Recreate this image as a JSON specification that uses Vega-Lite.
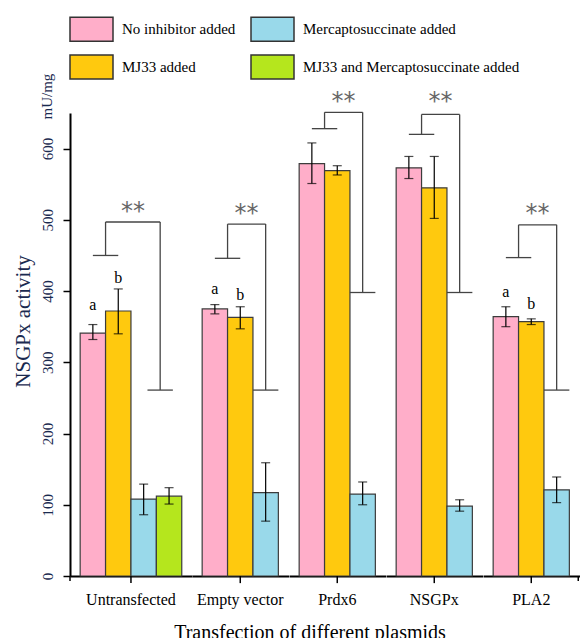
{
  "$schema": "https://vega.github.io/schema/vega-lite/v6.json",
  "padding": {"left": 12, "top": 6, "right": 0, "bottom": 0},
  "config": {"view": {"stroke": null}, "font": "Liberation Serif", "legend": {"labelFont": "Liberation Serif"}},
  "data": {"values": [
    {"group": "Untransfected", "series": "No inhibitor added", "value": 341, "lo": 332, "hi": 353, "letter": "a", "letterY": 374},
    {"group": "Untransfected", "series": "MJ33 added", "value": 372, "lo": 340, "hi": 403, "letter": "b", "letterY": 412, "capL": 450, "capT": 497, "capB": 261, "starY": 511},
    {"group": "Untransfected", "series": "Mercaptosuccinate added", "value": 108, "lo": 86, "hi": 129},
    {"group": "Untransfected", "series": "MJ33 and Mercaptosuccinate added", "value": 112, "lo": 101, "hi": 124},
    {"group": "Empty vector", "series": "No inhibitor added", "value": 375, "lo": 368, "hi": 381, "letter": "a", "letterY": 396},
    {"group": "Empty vector", "series": "MJ33 added", "value": 363, "lo": 347, "hi": 378, "letter": "b", "letterY": 388, "capL": 446, "capT": 494, "capB": 261, "starY": 508},
    {"group": "Empty vector", "series": "Mercaptosuccinate added", "value": 117, "lo": 77, "hi": 159},
    {"group": "Prdx6", "series": "No inhibitor added", "value": 579, "lo": 551, "hi": 608},
    {"group": "Prdx6", "series": "MJ33 added", "value": 569, "lo": 563, "hi": 576, "capL": 628, "capT": 651, "capB": 398, "starY": 665},
    {"group": "Prdx6", "series": "Mercaptosuccinate added", "value": 115, "lo": 100, "hi": 132},
    {"group": "NSGPx", "series": "No inhibitor added", "value": 573, "lo": 558, "hi": 589},
    {"group": "NSGPx", "series": "MJ33 added", "value": 545, "lo": 502, "hi": 589, "capL": 620, "capT": 648, "capB": 398, "starY": 665},
    {"group": "NSGPx", "series": "Mercaptosuccinate added", "value": 98, "lo": 91, "hi": 107},
    {"group": "PLA2", "series": "No inhibitor added", "value": 364, "lo": 350, "hi": 378, "letter": "a", "letterY": 392},
    {"group": "PLA2", "series": "MJ33 added", "value": 357, "lo": 353, "hi": 361, "letter": "b", "letterY": 375, "capL": 447, "capT": 493, "capB": 261, "starY": 508},
    {"group": "PLA2", "series": "Mercaptosuccinate added", "value": 121, "lo": 103, "hi": 139}
  ]},
  "facet": {
    "column": {
      "field": "group", "type": "nominal",
      "sort": ["Untransfected", "Empty vector", "Prdx6", "NSGPx", "PLA2"],
      "title": "Transfection of different plasmids",
      "header": {
        "labelOrient": "bottom", "labelFont": "Liberation Serif", "labelFontSize": 16, "labelColor": "black", "labelPadding": 16,
        "titleOrient": "bottom", "titleFont": "Liberation Serif", "titleFontSize": 20, "titleFontWeight": "normal", "titleColor": "black", "titlePadding": 5
      }
    }
  },
  "spacing": 0,
  "bounds": "flush",
  "resolve": {"scale": {"x": "independent"}, "axis": {"x": "independent"}},
  "spec": {
    "width": {"step": 25.4},
    "height": 463,
    "layer": [
      {
        "mark": {"type": "bar", "stroke": "#3c3c3c", "strokeWidth": 1.2},
        "encoding": {
          "x": {"field": "series", "type": "nominal", "sort": ["No inhibitor added", "MJ33 added", "Mercaptosuccinate added", "MJ33 and Mercaptosuccinate added"],
                "scale": {"paddingInner": 0, "paddingOuter": 0.4},
                "axis": {"title": null, "labels": false, "ticks": false, "domainColor": "black", "domainWidth": 2}},
          "y": {"field": "value", "type": "quantitative", "scale": {"domain": [0, 650], "nice": false},
                "axis": {"title": "NSGPx activity", "values": [0, 50, 100, 150, 200, 250, 300, 350, 400, 450, 500, 550, 600, 650],
                         "labelExpr": "datum.value % 100 === 0 ? datum.label : ''",
                         "labelAngle": -90, "labelAlign": "center", "labelBaseline": "bottom", "labelOverlap": false, "labelFlush": false,
                         "labelFont": "Liberation Serif", "labelFontSize": 15, "labelColor": "#1a2a50", "labelPadding": 8,
                         "tickSize": 7, "tickColor": "black", "tickWidth": 1.5, "domainColor": "black", "domainWidth": 2, "grid": false,
                         "titleFont": "Liberation Serif", "titleFontSize": 21, "titleFontWeight": "normal", "titleColor": "#1a2a50",
                         "titleX": -37, "titleY": 208}},
          "fill": {"field": "series", "type": "nominal",
                   "scale": {"domain": ["No inhibitor added", "MJ33 added", "Mercaptosuccinate added", "MJ33 and Mercaptosuccinate added"],
                             "range": ["#FFAEC9", "#FFC90E", "#99D9EA", "#B5E61D"]},
                   "legend": {"orient": "none", "legendX": -1, "legendY": -106.5, "columns": 2, "title": null,
                              "symbolType": "M-1,-0.56H1V0.56H-1Z", "symbolSize": 1849, "symbolStrokeColor": "#333", "symbolStrokeWidth": 1.5,
                              "labelFont": "Liberation Serif", "labelFontSize": 15, "labelColor": "black", "labelOffset": 8,
                              "columnPadding": 12, "rowPadding": -6, "labelLimit": 400,
                              "encode": {"symbols": {"update": {"stroke": {"value": "#333"}, "strokeWidth": {"value": 1.5}, "opacity": {"value": 1}}},
                                         "labels": {"update": {"font": {"value": "Liberation Serif"}}}}}}
        }
      },
      {
        "mark": {"type": "rule", "color": "black", "strokeWidth": 1.2},
        "encoding": {
          "x": {"field": "series", "type": "nominal", "sort": ["No inhibitor added", "MJ33 added", "Mercaptosuccinate added", "MJ33 and Mercaptosuccinate added"]},
          "y": {"field": "lo", "type": "quantitative"},
          "y2": {"field": "hi"}
        }
      },
      {
        "mark": {"type": "tick", "color": "black", "thickness": 1.2, "size": 9},
        "encoding": {
          "x": {"field": "series", "type": "nominal", "sort": ["No inhibitor added", "MJ33 added", "Mercaptosuccinate added", "MJ33 and Mercaptosuccinate added"]},
          "y": {"field": "lo", "type": "quantitative"}
        }
      },
      {
        "mark": {"type": "tick", "color": "black", "thickness": 1.2, "size": 9},
        "encoding": {
          "x": {"field": "series", "type": "nominal", "sort": ["No inhibitor added", "MJ33 added", "Mercaptosuccinate added", "MJ33 and Mercaptosuccinate added"]},
          "y": {"field": "hi", "type": "quantitative"}
        }
      },
      {
        "transform": [{"filter": "datum.letter != null"}],
        "mark": {"type": "text", "font": "Liberation Serif", "fontSize": 16, "color": "black", "baseline": "alphabetic", "align": "center"},
        "encoding": {
          "x": {"field": "series", "type": "nominal", "sort": ["No inhibitor added", "MJ33 added", "Mercaptosuccinate added", "MJ33 and Mercaptosuccinate added"]},
          "y": {"field": "letterY", "type": "quantitative"},
          "text": {"field": "letter"}
        }
      },
      {
        "transform": [{"filter": "datum.capL != null && datum.group == 'Untransfected'"}],
        "mark": {"type": "text", "font": "Liberation Serif", "fontSize": 15, "color": "#1a2a50", "angle": 270, "baseline": "bottom", "align": "center"},
        "encoding": {
          "x": {"field": "series", "type": "nominal", "bandPosition": -2.0, "sort": ["No inhibitor added", "MJ33 added", "Mercaptosuccinate added", "MJ33 and Mercaptosuccinate added"]},
          "y": {"datum": 673, "type": "quantitative"},
          "text": {"value": "mU/mg"}
        }
      },
      {
        "transform": [{"filter": "datum.capL != null && datum.group != 'Untransfected'"}],
        "mark": {"type": "rule", "color": "black", "strokeWidth": 1.5},
        "encoding": {
          "x": {"field": "series", "type": "nominal", "bandPosition": 0.5, "sort": ["No inhibitor added", "MJ33 added", "Mercaptosuccinate added", "MJ33 and Mercaptosuccinate added"]},
          "y": {"datum": 0, "type": "quantitative"},
          "y2": {"datum": -10}
        }
      },
      {
        "transform": [{"filter": "datum.capL != null && datum.group == 'Untransfected'"}],
        "mark": {"type": "rule", "color": "black", "strokeWidth": 1.5},
        "encoding": {
          "x": {"field": "series", "type": "nominal", "bandPosition": 1, "sort": ["No inhibitor added", "MJ33 added", "Mercaptosuccinate added", "MJ33 and Mercaptosuccinate added"]},
          "y": {"datum": 0, "type": "quantitative"},
          "y2": {"datum": -10}
        }
      },
      {
        "transform": [{"filter": "datum.capL != null && datum.group == 'Untransfected'"}],
        "mark": {"type": "rule", "color": "black", "strokeWidth": 1.5},
        "encoding": {
          "x": {"field": "series", "type": "nominal", "bandPosition": -1.4, "sort": ["No inhibitor added", "MJ33 added", "Mercaptosuccinate added", "MJ33 and Mercaptosuccinate added"]},
          "y": {"datum": 0, "type": "quantitative"},
          "y2": {"datum": -7}
        }
      },
      {
        "transform": [{"filter": "datum.capL != null && datum.group == 'PLA2'"}],
        "mark": {"type": "rule", "color": "black", "strokeWidth": 1.5},
        "encoding": {
          "x": {"field": "series", "type": "nominal", "bandPosition": 2.35, "sort": ["No inhibitor added", "MJ33 added", "Mercaptosuccinate added", "MJ33 and Mercaptosuccinate added"]},
          "y": {"datum": 0, "type": "quantitative"},
          "y2": {"datum": -7}
        }
      },
      {
        "transform": [{"filter": "datum.capL != null"}],
        "mark": {"type": "rule", "color": "#444", "strokeWidth": 1.3},
        "encoding": {
          "x": {"field": "series", "type": "nominal", "bandPosition": -0.5, "sort": ["No inhibitor added", "MJ33 added", "Mercaptosuccinate added", "MJ33 and Mercaptosuccinate added"]},
          "x2": {"field": "series", "bandPosition": 0.5},
          "y": {"field": "capL", "type": "quantitative"}
        }
      },
      {
        "transform": [{"filter": "datum.capL != null"}],
        "mark": {"type": "rule", "color": "#444", "strokeWidth": 1.3},
        "encoding": {
          "x": {"field": "series", "type": "nominal", "bandPosition": 0, "sort": ["No inhibitor added", "MJ33 added", "Mercaptosuccinate added", "MJ33 and Mercaptosuccinate added"]},
          "y": {"field": "capL", "type": "quantitative"},
          "y2": {"field": "capT"}
        }
      },
      {
        "transform": [{"filter": "datum.capL != null && datum.group != 'Untransfected'"}],
        "mark": {"type": "rule", "color": "#444", "strokeWidth": 1.3},
        "encoding": {
          "x": {"field": "series", "type": "nominal", "bandPosition": 0, "sort": ["No inhibitor added", "MJ33 added", "Mercaptosuccinate added", "MJ33 and Mercaptosuccinate added"]},
          "x2": {"field": "series", "bandPosition": 1.5},
          "y": {"field": "capT", "type": "quantitative"}
        }
      },
      {
        "transform": [{"filter": "datum.capL != null && datum.group != 'Untransfected'"}],
        "mark": {"type": "rule", "color": "#444", "strokeWidth": 1.3},
        "encoding": {
          "x": {"field": "series", "type": "nominal", "bandPosition": 1.5, "sort": ["No inhibitor added", "MJ33 added", "Mercaptosuccinate added", "MJ33 and Mercaptosuccinate added"]},
          "y": {"field": "capT", "type": "quantitative"},
          "y2": {"field": "capB"}
        }
      },
      {
        "transform": [{"filter": "datum.capL != null && datum.group != 'Untransfected'"}],
        "mark": {"type": "rule", "color": "#444", "strokeWidth": 1.3},
        "encoding": {
          "x": {"field": "series", "type": "nominal", "bandPosition": 1, "sort": ["No inhibitor added", "MJ33 added", "Mercaptosuccinate added", "MJ33 and Mercaptosuccinate added"]},
          "x2": {"field": "series", "bandPosition": 2},
          "y": {"field": "capB", "type": "quantitative"}
        }
      },
      {
        "transform": [{"filter": "datum.capL != null && datum.group != 'Untransfected'"}],
        "mark": {"type": "text", "font": "DejaVu Sans", "fontSize": 24, "color": "#666", "baseline": "middle", "align": "center"},
        "encoding": {
          "x": {"field": "series", "type": "nominal", "bandPosition": 0.75, "sort": ["No inhibitor added", "MJ33 added", "Mercaptosuccinate added", "MJ33 and Mercaptosuccinate added"]},
          "y": {"field": "starY", "type": "quantitative"},
          "text": {"value": "**"}
        }
      },
      {
        "transform": [{"filter": "datum.capL != null && datum.group == 'Untransfected'"}],
        "mark": {"type": "rule", "color": "#444", "strokeWidth": 1.3},
        "encoding": {
          "x": {"field": "series", "type": "nominal", "bandPosition": 0, "sort": ["No inhibitor added", "MJ33 added", "Mercaptosuccinate added", "MJ33 and Mercaptosuccinate added"]},
          "x2": {"field": "series", "bandPosition": 2.15},
          "y": {"field": "capT", "type": "quantitative"}
        }
      },
      {
        "transform": [{"filter": "datum.capL != null && datum.group == 'Untransfected'"}],
        "mark": {"type": "rule", "color": "#444", "strokeWidth": 1.3},
        "encoding": {
          "x": {"field": "series", "type": "nominal", "bandPosition": 2.15, "sort": ["No inhibitor added", "MJ33 added", "Mercaptosuccinate added", "MJ33 and Mercaptosuccinate added"]},
          "y": {"field": "capT", "type": "quantitative"},
          "y2": {"field": "capB"}
        }
      },
      {
        "transform": [{"filter": "datum.capL != null && datum.group == 'Untransfected'"}],
        "mark": {"type": "rule", "color": "#444", "strokeWidth": 1.3},
        "encoding": {
          "x": {"field": "series", "type": "nominal", "bandPosition": 1.65, "sort": ["No inhibitor added", "MJ33 added", "Mercaptosuccinate added", "MJ33 and Mercaptosuccinate added"]},
          "x2": {"field": "series", "bandPosition": 2.65},
          "y": {"field": "capB", "type": "quantitative"}
        }
      },
      {
        "transform": [{"filter": "datum.capL != null && datum.group == 'Untransfected'"}],
        "mark": {"type": "text", "font": "DejaVu Sans", "fontSize": 24, "color": "#666", "baseline": "middle", "align": "center"},
        "encoding": {
          "x": {"field": "series", "type": "nominal", "bandPosition": 1.08, "sort": ["No inhibitor added", "MJ33 added", "Mercaptosuccinate added", "MJ33 and Mercaptosuccinate added"]},
          "y": {"field": "starY", "type": "quantitative"},
          "text": {"value": "**"}
        }
      }
    ]
  }
}
